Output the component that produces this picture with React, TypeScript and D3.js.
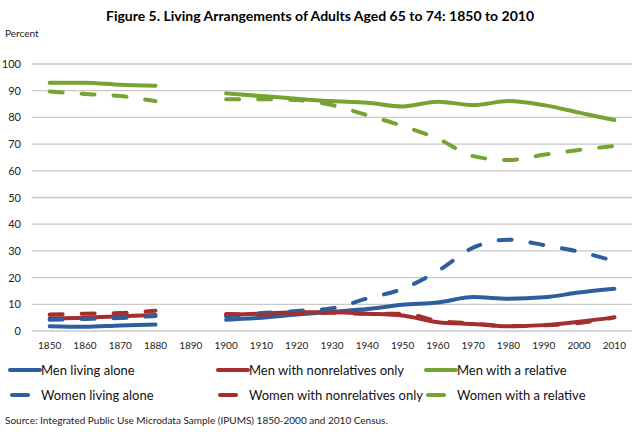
import React from "react";
import * as d3 from "d3";

const years = ["1850","1860","1870","1880","1890","1900","1910","1920","1930","1940","1950","1960","1970","1980","1990","2000","2010"];
const yTicks = [0,10,20,30,40,50,60,70,80,90,100];

const menAlone =        [1.8,1.6,2.1,2.4,null,4.2,5.0,6.2,7.2,8.2,9.8,10.7,12.7,12.1,12.6,14.4,15.8];
const menNonrel =       [4.8,5.0,5.5,6.0,null,6.0,6.5,7.0,7.0,6.5,5.8,3.3,2.6,1.8,2.2,3.5,5.1];
const menRel =          [93.0,93.0,92.2,91.9,null,89.0,88.0,87.0,86.1,85.5,84.1,85.9,84.6,86.1,84.6,81.8,79.0];
const womenAlone =      [4.2,4.5,4.9,5.6,null,5.4,6.7,7.5,8.5,12.2,15.8,22.5,31.2,34.2,32.2,29.7,26.2];
const womenNonrel =     [6.2,6.5,6.7,7.6,null,6.4,6.2,6.4,6.8,6.5,6.5,3.8,2.8,1.8,2.1,3.0,5.1];
const womenRel =        [89.7,88.8,88.0,86.1,null,86.8,86.8,86.5,84.6,80.8,76.8,72.0,65.5,64.0,66.0,67.8,69.3];

const BLUE = "#2D5F9E";
const RED = "#A3302E";
const GREEN = "#77A332";

const series = [
  { name: "Men living alone", values: menAlone, color: BLUE, dashed: false },
  { name: "Men with nonrelatives only", values: menNonrel, color: RED, dashed: false },
  { name: "Men with a relative", values: menRel, color: GREEN, dashed: false },
  { name: "Women living alone", values: womenAlone, color: BLUE, dashed: true },
  { name: "Women with nonrelatives only", values: womenNonrel, color: RED, dashed: true },
  { name: "Women with a relative", values: womenRel, color: GREEN, dashed: true },
];

const FONT = "Lato, 'Open Sans', sans-serif";

export default function App() {
  const W = 640, H = 432;
  const left = 32, right = 632, top = 64, bottom = 331;
  const x = d3.scaleBand<string>().domain(years).range([left, right]);
  const y = d3.scaleLinear().domain([0, 100]).range([bottom, top]);
  const cx = (yr: string) => (x(yr) as number) + x.bandwidth() / 2;

  const line = d3.line<number | null>()
    .defined(d => d !== null)
    .x((_, i) => cx(years[i]))
    .y(d => y(d as number))
    .curve(d3.curveMonotoneX);

  const legendCols = [10, 218, 426];
  const legendRows = [370, 395];

  return (
    <svg width={W} height={H} style={{ position: "absolute", left: 0, top: 0 }} fontFamily={FONT}>
      <rect width={W} height={H} fill="#fff" />
      <text x={320} y={21} textAnchor="middle" fontSize={14} fontWeight="bold" fill="#000">
        Figure 5. Living Arrangements of Adults Aged 65 to 74: 1850 to 2010
      </text>
      <text x={5} y={37} fontSize={10} fill="#222">Percent</text>
      {yTicks.map(t => (
        <g key={t}>
          <line x1={left} x2={right} y1={y(t)} y2={y(t)} stroke="#C8C8C8" strokeWidth={1.3} />
          <text x={21} y={y(t) + 4} textAnchor="end" fontSize={11} fill="#222">{t}</text>
        </g>
      ))}
      {years.map(yr => (
        <text key={yr} x={cx(yr)} y={349} textAnchor="middle" fontSize={10} fill="#222">{yr}</text>
      ))}
      {series.map(s => (
        <path key={s.name} d={line(s.values) || ""} fill="none" stroke={s.color} strokeWidth={4}
          strokeLinecap="round" strokeLinejoin="round"
          strokeDasharray={s.dashed ? "13 19" : undefined} />
      ))}
      {series.map((s, i) => {
        const col = i % 3, row = Math.floor(i / 3);
        const lx = legendCols[col], ly = legendRows[row];
        return (
          <g key={"lg" + s.name}>
            {s.dashed
              ? <line x1={lx + 2} x2={lx + 18} y1={ly} y2={ly} stroke={s.color} strokeWidth={4} strokeLinecap="round" />
              : <line x1={lx} x2={lx + 30} y1={ly} y2={ly} stroke={s.color} strokeWidth={4} strokeLinecap="round" />}
            <text x={lx + 31} y={ly + 5} fontSize={13} fill="#111">{s.name}</text>
          </g>
        );
      })}
      <text x={5} y={424} fontSize={10} fill="#222">
        Source: Integrated Public Use Microdata Sample (IPUMS) 1850-2000 and 2010 Census.
      </text>
    </svg>
  );
}
